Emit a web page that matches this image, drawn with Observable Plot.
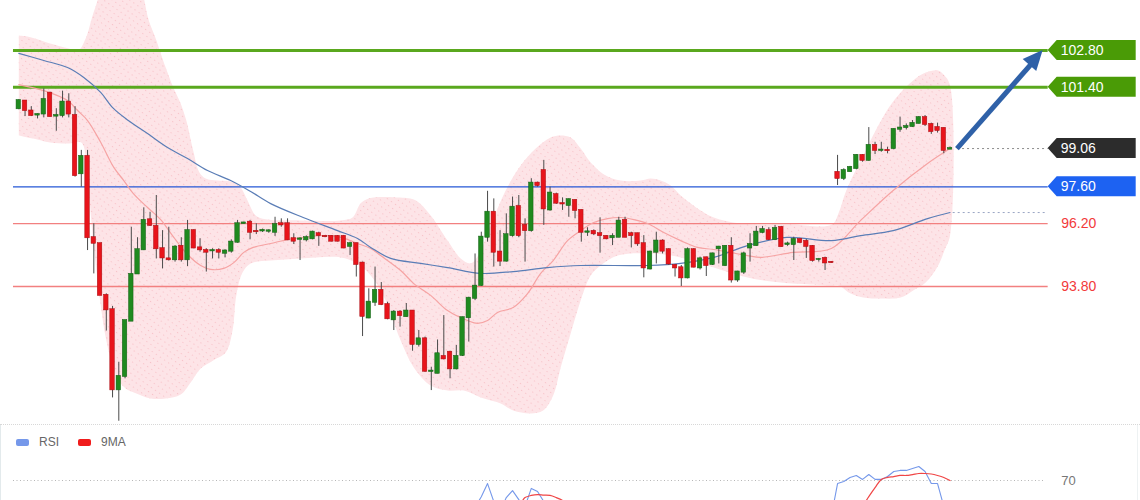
<!DOCTYPE html>
<html><head><meta charset="utf-8">
<script src="https://cdn.jsdelivr.net/npm/d3@7"></script>
<script src="https://cdn.jsdelivr.net/npm/@observablehq/plot@0.6"></script>
<style>
html,body{margin:0;padding:0;background:#fff}
body{width:1140px;height:500px;overflow:hidden;position:relative;font-family:"Liberation Sans",Arial,sans-serif}
#main{position:absolute;left:0;top:0}
#rsi{position:absolute;left:0;top:424px;border-top:1px dotted #d8d8d8;width:1140px}
#legend{position:absolute;left:16px;top:435px;font-size:12px;color:#666;display:flex;align-items:center}
#legend .sw{display:inline-block;width:13px;height:7px;border-radius:2px;margin-right:10px}
#legend .it{display:flex;align-items:center;margin-right:19px}
#edgeL{position:absolute;left:0;top:0;width:1px;height:500px;background:#e3eaec}
#edgeR{position:absolute;left:1137px;top:0;width:1px;height:500px;background:#eef2f3}
</style></head><body>
<div id="edgeL"></div><div id="edgeR"></div>
<div id="main"></div>
<div id="rsi"></div>
<div id="legend"></div>
<script>
// ---- candle data (index 0..149) ----
const opens = [100.58,100.87,100.49,100.34,100.38,101.17,100.30,100.32,100.83,100.32,
98.10,98.76,95.66,95.43,93.46,92.91,89.86,90.37,92.48,94.28,
95.20,96.34,96.09,95.24,94.85,94.82,95.33,94.82,95.93,95.27,
95.17,95.16,95.17,95.07,95.15,95.49,96.20,96.25,95.90,95.92,
95.91,95.87,96.19,96.19,95.62,95.60,95.58,95.62,95.81,95.71,
95.71,95.71,95.71,95.33,95.43,94.69,92.60,93.20,93.65,93.11,
92.53,92.82,92.65,92.86,91.59,91.80,90.56,90.49,91.13,91.29,
90.66,91.17,92.61,93.35,93.84,95.68,96.63,95.11,94.77,95.74,
96.85,96.13,95.93,97.74,98.22,96.72,97.30,96.96,96.89,97.08,
96.70,95.87,95.90,95.81,95.71,95.66,95.68,96.32,95.81,95.81,
95.43,94.47,95.11,95.53,95.20,94.60,94.51,94.13,95.20,94.51,
94.89,94.64,95.24,94.60,95.33,94.05,94.35,95.27,95.36,95.86,
95.93,95.59,96.05,95.40,95.40,95.59,95.52,95.33,94.83,94.87,
94.72,98.15,97.92,98.18,98.30,98.80,98.61,99.18,98.99,98.99,
99.06,99.80,99.86,99.90,100.02,100.24,99.98,99.86,99.83,99.04];
const highs = [100.92,100.89,100.66,100.38,101.34,101.21,100.58,101.25,101.15,100.66,
98.99,98.99,96.19,95.45,93.52,93.04,90.91,92.50,96.06,95.66,
96.80,96.63,97.27,95.93,96.06,95.36,95.66,96.32,95.96,95.62,
95.24,95.24,95.24,95.20,95.58,96.32,96.25,96.32,96.19,95.99,
95.96,96.44,96.38,96.38,95.81,95.66,95.73,95.91,95.87,95.74,
95.74,95.74,95.74,95.49,95.45,94.73,93.71,94.54,93.95,93.20,
92.88,92.88,93.15,92.88,92.12,91.87,90.72,91.76,92.69,91.33,
91.55,92.63,93.39,95.04,95.87,97.43,97.14,95.93,96.57,97.21,
97.27,96.38,97.91,97.78,98.61,97.59,97.36,97.18,97.14,97.11,
96.72,96.04,95.96,96.42,95.74,95.81,96.44,96.44,95.87,95.83,
95.74,95.15,95.87,95.58,95.24,94.64,94.60,95.27,95.24,94.92,
94.92,95.07,95.33,95.36,95.66,94.38,95.11,95.81,96.09,96.09,
96.04,96.13,96.09,95.49,95.68,95.62,95.59,95.36,94.87,94.92,
94.75,98.80,98.29,98.38,98.83,98.83,99.86,99.30,99.30,99.11,
99.81,100.26,100.00,100.13,100.28,100.32,100.03,100.03,99.84,99.12];
const lows = [100.54,100.28,100.28,100.19,100.23,100.26,99.72,100.23,100.23,97.97,
97.59,95.17,94.28,93.46,92.10,89.55,88.66,90.28,92.48,94.26,
95.17,96.09,94.85,94.47,94.77,94.73,94.73,94.56,95.24,95.11,
94.35,94.85,94.85,94.89,95.07,95.45,96.19,95.58,95.78,95.86,
95.83,95.71,96.06,95.55,95.40,94.79,95.50,95.58,95.33,95.66,
95.50,95.50,95.24,94.98,94.16,91.89,92.57,93.04,93.07,92.53,
92.12,92.25,92.63,91.33,91.49,90.53,89.83,90.47,91.00,90.28,
90.62,91.13,91.68,93.26,93.80,95.49,94.54,94.56,94.73,95.68,
95.66,94.73,95.87,97.59,96.13,96.67,96.93,96.70,96.44,96.38,
95.49,95.71,95.74,95.07,95.58,95.36,95.66,95.66,95.27,95.33,
94.13,94.43,94.66,95.04,94.60,94.16,93.80,94.09,94.51,94.43,
94.18,94.60,94.66,94.56,93.93,93.96,94.26,94.73,95.33,95.81,
95.55,95.55,95.30,95.33,94.79,95.43,94.87,94.73,94.73,94.41,
94.68,97.65,97.84,98.16,98.25,98.54,98.58,98.83,98.92,98.86,
99.01,99.68,99.77,99.87,100.00,99.90,99.60,99.65,98.86,99.02];
const closes = [100.89,100.51,100.32,100.36,100.93,100.28,100.32,100.83,100.38,98.03,
98.76,95.66,95.45,93.46,92.91,89.86,90.37,92.50,94.26,95.20,
96.32,96.13,95.24,94.89,94.82,95.30,94.82,95.93,95.27,95.20,
95.11,95.17,95.11,95.15,95.49,96.19,96.22,95.87,95.89,95.94,
95.92,96.16,96.15,95.58,95.53,95.61,95.66,95.87,95.74,95.70,
95.53,95.53,95.27,95.43,94.64,92.66,93.20,93.65,93.11,92.57,
92.82,92.69,92.86,91.59,91.80,90.57,90.57,91.23,91.04,90.66,
91.13,92.61,93.35,93.81,95.68,96.63,95.11,94.77,95.77,96.82,
95.74,95.93,97.74,97.65,96.76,97.36,96.98,96.95,97.11,96.70,
95.87,95.88,95.81,95.74,95.62,95.71,96.29,95.68,95.74,95.43,
94.51,95.11,95.53,95.15,94.66,94.51,94.13,95.20,94.54,94.85,
94.60,95.04,95.30,95.33,94.05,94.35,95.04,95.40,95.87,95.97,
95.59,96.01,95.32,95.42,95.59,95.48,95.33,94.79,94.83,94.70,
94.71,97.92,98.22,98.34,98.80,98.61,99.18,98.99,99.00,98.98,
99.79,99.84,99.90,100.02,100.24,99.98,99.71,99.75,98.99,99.06];

// ---- indicator lines: [candle index, price] ----
const bollUpper = [[0,103.37],[2,103.30],[5,103.07],[8,102.88],[9.5,102.80],[10.7,103.26],[11.8,104.13],[12.6,104.71],[13.9,105.85],[15.5,106.6],[17.5,106.4],[19.5,105.28],[20.8,103.94],[21.9,103.26],[23.5,102.15],[24.6,101.46],[25.9,100.78],[26.8,100.13],[27.9,98.99],[28.9,98.15],[29.9,97.92],[31.8,97.84],[33.9,97.80],[35.5,97.57],[36.6,97.08],[37.9,96.51],[39.5,96.36],[45,96.32],[51.5,96.32],[53.4,96.43],[54.7,96.97],[56,97.16],[61,97.19],[63.5,97.08],[65.9,96.51],[68.6,95.55],[70.7,94.87],[72.3,94.68],[73.5,94.98],[75.5,96.13],[77.9,97.46],[80.3,98.41],[82.7,99.06],[85.1,99.48],[86.7,99.56],[88.3,99.48],[89.9,99.06],[91.5,98.53],[93.9,98.03],[96.3,97.84],[99.5,97.84],[101.1,97.92],[102.7,97.84],[104.3,97.65],[105.9,97.27],[109.1,96.70],[111.2,96.43],[115.5,96.20],[123.5,96.16],[130.1,96.16],[131.2,96.62],[132.1,97.27],[133.1,97.84],[135.1,98.80],[137.1,99.75],[139.1,100.59],[141.1,101.20],[143.1,101.66],[145.1,101.96],[147.1,102.04],[148.1,101.85],[149,101.47]];
const bollLower = [[0,99.56],[2.3,99.44],[5,99.29],[8,99.25],[10,99.29],[11,97.84],[11.9,95.55],[13,93.27],[14,91.74],[15,90.79],[16,90.20],[17.1,89.91],[18.4,89.76],[21.1,89.53],[23.5,89.53],[25.9,89.68],[27.5,90.14],[29.1,90.67],[31.1,90.98],[33.1,91.28],[34.2,92.12],[34.8,93.46],[35.8,94.33],[37.1,94.68],[40.3,94.79],[45.1,94.87],[51.5,94.91],[53.9,94.71],[56.3,94.22],[58.7,93.27],[61.1,91.74],[63.2,90.71],[65.9,90.02],[68.6,89.83],[71.2,89.83],[73.9,89.57],[77.1,89.34],[79.1,89.07],[81.9,88.96],[83.9,89.07],[85.5,89.64],[86.7,90.71],[88.3,92.01],[89.9,93.27],[91.5,94.22],[93.1,94.60],[95.8,94.98],[101.1,95.06],[105.9,94.91],[111.2,94.52],[116.6,94.14],[121.9,93.95],[126.7,93.88],[130.1,93.84],[131.2,93.84],[133.1,93.53],[135.1,93.38],[137.9,93.34],[141.1,93.38],[143.1,93.65],[145.1,93.95],[147.1,94.60],[148.1,95.17],[149,95.74]];
const maFast = [[0,101.50],[4,101.27],[7.8,100.89],[9.4,100.51],[11,100.13],[13.1,99.30],[15.2,98.34],[16.8,97.84],[18.3,97.35],[20.6,96.81],[22.7,96.35],[24.8,95.67],[27,95.02],[29.1,94.60],[30.7,94.45],[32.8,94.49],[34.4,94.71],[36,95.10],[37.5,95.29],[40.3,95.44],[43,95.59],[45.6,95.67],[48.3,95.74],[51,95.71],[54.2,95.44],[56.3,95.25],[57.9,94.98],[61.1,94.41],[63.2,93.91],[65.9,93.46],[68.6,92.88],[71.8,92.50],[73.4,92.39],[75,92.50],[76.6,92.81],[79.1,93.00],[81.4,93.53],[83.5,94.30],[85.5,94.79],[87.8,95.55],[89.9,95.93],[92,96.24],[94.2,96.39],[96.3,96.43],[98.4,96.35],[100.6,96.20],[103.2,95.86],[105.9,95.55],[108.6,95.29],[111.2,95.21],[116.6,94.98],[118.7,94.91],[123.9,95.10],[130,95.25],[134.7,96.32],[139.9,97.46],[145.4,98.49],[149,99.06]];
const maSlow = [[0,102.69],[4,102.42],[7.8,102.15],[10.4,101.77],[13.1,101.20],[15.1,100.60],[17.4,100.15],[20.6,99.63],[23.8,99.10],[27,98.68],[30.2,98.22],[33.9,97.84],[37.1,97.42],[40.3,96.96],[45.5,96.43],[51,95.93],[54.2,95.63],[56.3,95.29],[59.5,94.87],[64.3,94.68],[68.6,94.52],[73.9,94.30],[79.1,94.37],[84.6,94.52],[89.9,94.60],[100.6,94.60],[105.9,94.68],[111.2,94.91],[116.6,95.36],[122.9,95.67],[130,95.55],[134.7,95.74],[139.9,95.93],[145.4,96.39],[149,96.62]];

// ---- levels / labels ----
const levelValues = [102.80, 101.40, 97.60, 96.20, 93.80];
const levelKinds  = ["target", "target", "pivot", "support", "support"];
const lastPrice = 99.06;
const lastSlowMA = 96.62;

// ---- RSI panel (only the visible upper part) ----
const rsiSegments = [
  {start: 73, values: [55, 61, 68.3, 58.3, 53, 60.5, 64.4, 59.4, 55.6, 65.6, 63.9, 58.3, 55.6, 52]},
  {start: 130, values: [50, 68.3, 69.4, 71.7, 72.8, 70.6, 73.3, 70.6, 70.6, 72.2, 75, 75.6, 75.6, 76.7, 77.8, 75, 68.3, 68.3, 55.6, 50]}
];
const ma9Segments = [
  {start: 79, values: [52, 55.6, 60.5, 61.7, 62.2, 61.9, 61.7, 60.5, 58.9, 55.6, 52]},
  {start: 134, values: [50, 55.6, 61, 66, 70.6, 71.7, 72.2, 72.8, 72.8, 73.3, 73.9, 73.9, 73.6, 72.8, 71.7, 70]}
];
const rsiLevel = 70;

// ---------- build ----------
const candles = opens.map((o, i) => ({i, o, h: highs[i], l: lows[i], c: closes[i]}));
const toPts = arr => arr.map(([i, v]) => ({i, v}));
const bandOutline = [...bollUpper, ...bollLower.slice().reverse()].map(([i, v]) => ({i, v}));
const levels = levelValues.map((v, k) => ({v, kind: levelKinds[k]}));
const lineColor = {target: "#5aa81e", pivot: "#2457d6", support: "#f28080"};
const lineWidth = {target: 3, pivot: 1.4, support: 1.3};

const X_DOMAIN = [-2.928, 179.472];
const LINE_START = -0.85, LINE_END = 164.7;
const W = 1140, H = 424;
const GREEN = "#1f8a1f", RED = "#e8141b";
const ARROW = {x1: 150.1, y1: lastPrice, x2: 163.9, y2: levelValues[0]};

const main = Plot.plot({
  width: W, height: H, margin: 0,
  x: {type: "linear", domain: X_DOMAIN, axis: null},
  y: {type: "linear", domain: [88.536, 104.707], axis: null},
  style: {fontFamily: "Liberation Sans, Arial, sans-serif", background: "#fff"},
  marks: [
    Plot.line(bandOutline, {x: "i", y: "v", fill: "#fde4e7", stroke: "none", curve: "catmull-rom", clip: true}),
    Plot.line(bandOutline, {x: "i", y: "v", fill: "url(#hatch)", stroke: "none", curve: "catmull-rom", clip: true}),
    Plot.ruleY(levels, {y: "v", x1: LINE_START, x2: LINE_END, stroke: d => lineColor[d.kind], strokeWidth: d => lineWidth[d.kind]}),
    Plot.ruleY([lastSlowMA], {y: d => d, x1: 149.5, x2: LINE_END, stroke: "#9aa6c4", strokeDasharray: "2,3", strokeWidth: 1}),
    Plot.ruleY([lastPrice], {y: d => d, x1: 150.2, x2: LINE_END, stroke: "#8a8a8a", strokeDasharray: "2,3", strokeWidth: 1}),
    Plot.line(toPts(maFast), {x: "i", y: "v", stroke: "#f6a3a3", strokeWidth: 1.2, curve: "catmull-rom"}),
    Plot.line(toPts(maSlow), {x: "i", y: "v", stroke: "#5a7db6", strokeWidth: 1.2, curve: "catmull-rom"}),
    Plot.ruleX(candles, {x: "i", y1: "l", y2: "h", stroke: "#4a4a4a", strokeWidth: 1}),
    Plot.rect(candles, {
      x1: d => d.i - 0.36, x2: d => d.i + 0.36,
      y1: d => Math.min(d.o, d.c), y2: d => Math.max(d.o, d.c),
      fill: d => d.c >= d.o ? GREEN : RED,
      stroke: d => d.c >= d.o ? "#145e14" : "#a80d12", strokeWidth: 0.5,
      insetTop: -0.6, insetBottom: -0.6
    }),
    Plot.arrow([ARROW], {
      x1: "x1", y1: "y1", x2: "x2", y2: "y2", stroke: "#2f61a8", strokeWidth: 5,
      headLength: 0, insetEnd: 14, strokeLinecap: "butt"
    }),
    Plot.text(levels.filter(d => d.kind === "support"), {
      x: LINE_END, y: "v", dx: 13, text: d => d.v.toFixed(2), fill: "#f23a3a", fontSize: 14, textAnchor: "start"
    })
  ]
});
document.getElementById("main").appendChild(main);

// hatch pattern for the Bollinger band
const svg = d3.select(main);
const defs = svg.insert("defs", ":first-child");
const pat = defs.append("pattern").attr("id", "hatch").attr("width", 5).attr("height", 5)
  .attr("patternUnits", "userSpaceOnUse").attr("patternTransform", "rotate(35)");
pat.append("rect").attr("x", 0).attr("y", 0).attr("width", 1.2).attr("height", 1).attr("fill", "#f7c2c8");

const sx = main.scale("x"), sy = main.scale("y");
const g = svg.append("g");

// filled arrow head, positioned through the plot's scales
{
  const ex = sx.apply(ARROW.x2), ey = sy.apply(ARROW.y2);
  const bx = sx.apply(ARROW.x1), by = sy.apply(ARROW.y1);
  const len = Math.hypot(ex - bx, ey - by), ux = (ex - bx) / len, uy = (ey - by) / len;
  const hl = 20, hw = 9;
  const cx = ex - ux * hl, cy = ey - uy * hl;
  g.append("path")
    .attr("d", `M${ex},${ey} L${cx - uy * hw},${cy + ux * hw} L${cx + uy * hw},${cy - ux * hw} Z`)
    .attr("fill", "#2f61a8");
}

// right-hand price tags (boxes)
const tags = [
  {v: levelValues[0], fill: "#4a9b06"},
  {v: levelValues[1], fill: "#4a9b06"},
  {v: lastPrice, fill: "#2c2c2c"},
  {v: levelValues[2], fill: "#1d62f2"}
];
const tipX = sx.apply(LINE_END);
for (const t of tags) {
  const y = sy.apply(t.v);
  g.append("path")
    .attr("d", `M${tipX},${y} L${tipX + 9},${y - 10} L${tipX + 88},${y - 10} L${tipX + 88},${y + 10} L${tipX + 9},${y + 10} Z`)
    .attr("fill", t.fill);
  g.append("text").attr("x", tipX + 13).attr("y", y).attr("dy", "0.35em")
    .attr("text-anchor", "start")
    .attr("fill", "#fff").attr("font-size", 14).attr("font-family", "Liberation Sans, Arial, sans-serif")
    .text(t.v.toFixed(2));
}

// ---------- RSI ----------
const segRows = (segs) => segs.flatMap((s, k) => s.values.map((v, j) => ({seg: k, i: s.start + j, v})));
const rsiPlot = Plot.plot({
  width: W, height: 76, margin: 0,
  x: {type: "linear", domain: X_DOMAIN, axis: null},
  y: {type: "linear", domain: [58.33, 100.56], axis: null},
  style: {fontFamily: "Liberation Sans, Arial, sans-serif", background: "transparent"},
  marks: [
    Plot.ruleY([rsiLevel], {y: d => d, x1: LINE_START, x2: 164.0, stroke: "#b5b5b5", strokeDasharray: "1,2.5", strokeWidth: 1}),
    Plot.text([rsiLevel], {y: d => d, x: LINE_END, dx: 13, text: d => String(d), fill: "#777", fontSize: 13, textAnchor: "start"}),
    Plot.line(segRows(rsiSegments), {x: "i", y: "v", z: "seg", stroke: "#7598ea", strokeWidth: 1.1, clip: true}),
    Plot.line(segRows(ma9Segments), {x: "i", y: "v", z: "seg", stroke: "#f04646", strokeWidth: 1.2, curve: "catmull-rom", clip: true})
  ]
});
document.getElementById("rsi").appendChild(rsiPlot);

// legend
const legendItems = [{name: "RSI", color: "#7598ea"}, {name: "9MA", color: "#f01c1c"}];
const lg = d3.select("#legend");
for (const it of legendItems) {
  const s = lg.append("span").attr("class", "it");
  s.append("span").attr("class", "sw").style("background", it.color);
  s.append("span").text(it.name);
}
</script>
</body></html>
